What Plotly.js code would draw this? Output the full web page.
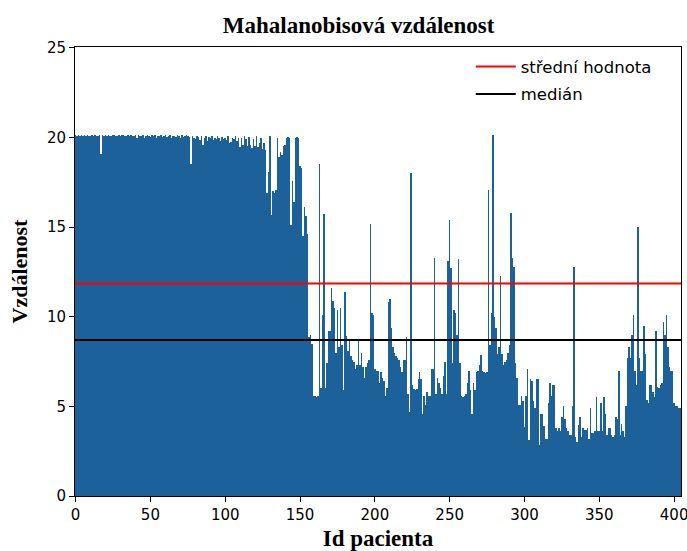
<!DOCTYPE html>
<html>
<head>
<meta charset="utf-8">
<script src="https://cdn.plot.ly/plotly-3.0.1.min.js"></script>
<style>html,body{margin:0;padding:0;background:#fff;}#chart{width:687px;height:551px;}</style>
</head>
<body>
<div id="chart"></div>
<script>
// Mahalanobis distance per patient (index 0..404)
const distances = [
  // 0-9
  20.12, 20.1, 20.13, 20.1, 20.12, 20.11, 20.13, 20.1, 20.12, 20.1,
  // 10-19
  20.11, 20.13, 20.1, 20.12, 20.1, 20.11, 20.13, 19.1, 20.12, 20.1,
  // 20-29
  20.13, 20.1, 20.12, 20.11, 20.1, 20.13, 20.12, 20.1, 20.11, 20.12,
  // 30-39
  20.1, 20.13, 20.12, 20.1, 20.11, 20.13, 20.1, 20.12, 20.11, 20.1,
  // 40-49
  20.12, 20.0, 20.13, 20.1, 20.11, 20.12, 20.0, 20.1, 20.13, 20.11,
  // 50-59
  20.05, 20.12, 20.1, 20.13, 20.0, 20.11, 20.1, 20.12, 20.05, 20.1,
  // 60-69
  20.13, 20.02, 20.1, 20.12, 20.0, 20.11, 20.1, 20.05, 20.12, 20.1,
  // 70-79
  20.0, 20.12, 20.05, 20.1, 20.13, 20.1, 20.05, 18.5, 20.1, 20.0,
  // 80-89
  19.9, 20.1, 20.05, 19.85, 20.1, 19.6, 20.0, 20.1, 19.8, 20.05,
  // 90-99
  19.95, 20.1, 19.85, 20.0, 19.9, 20.1, 19.95, 19.8, 20.05, 19.9,
  // 100-109
  20.0, 19.85, 20.1, 19.7, 19.75, 20.0, 19.9, 20.1, 19.8, 19.95,
  // 110-119
  19.45, 20.0, 19.6, 20.1, 19.9, 19.5, 20.05, 19.6, 19.4, 19.9,
  // 120-129
  19.5, 20.1, 19.45, 19.7, 20.0, 19.35, 19.7, 19.3, 16.9, 18.1,
  // 130-139
  20.1, 15.7, 17.0, 16.9, 17.1, 20.0, 18.9, 19.2, 19.0, 19.5,
  // 140-149
  19.6, 20.0, 20.05, 20.0, 15.1, 17.6, 16.4, 20.0, 20.05, 20.0,
  // 150-159
  18.4, 18.3, 14.5, 16.1, 15.6, 14.6, 8.85, 9.0, 8.5, 5.6,
  // 160-169
  5.6, 5.5, 5.6, 18.5, 6.0, 10.1, 15.75, 6.0, 7.4, 9.2,
  // 170-179
  9.2, 11.6, 10.9, 10.5, 8.0, 10.4, 8.3, 10.5, 8.4, 5.9,
  // 180-189
  11.4, 8.9, 8.1, 8.7, 7.8, 7.6, 7.5, 7.1, 7.3, 8.7,
  // 190-199
  7.3, 8.0, 7.2, 6.6, 7.2, 7.4, 7.6, 15.2, 10.2, 10.1,
  // 200-209
  7.1, 7.0, 7.0, 6.3, 6.9, 6.6, 6.4, 5.6, 6.0, 10.8,
  // 210-219
  11.0, 9.4, 8.3, 8.0, 7.8, 7.7, 7.6, 7.2, 6.9, 7.6,
  // 220-229
  7.6, 8.85, 5.7, 4.7, 18.0, 6.2, 5.95, 5.9, 5.95, 6.5,
  // 230-239
  6.9, 6.5, 4.6, 5.6, 5.1, 5.8, 5.6, 5.6, 7.1, 7.1,
  // 240-249
  13.3, 5.7, 6.6, 6.3, 6.0, 5.7, 6.7, 7.5, 5.7, 13.1,
  // 250-259
  15.4, 12.7, 7.4, 10.4, 10.2, 9.0, 13.2, 7.4, 5.6, 5.5,
  // 260-269
  5.6, 5.7, 6.3, 7.0, 5.9, 4.6, 6.3, 5.9, 6.9, 7.0,
  // 270-279
  7.3, 7.85, 7.0, 6.9, 6.85, 6.9, 17.1, 8.4, 10.2, 20.15,
  // 280-289
  10.0, 9.4, 7.9, 8.3, 12.3, 7.9, 7.3, 7.5, 7.6, 8.0,
  // 290-299
  8.4, 15.8, 13.3, 12.75, 7.4, 6.6, 5.1, 5.1, 5.6, 5.3,
  // 300-309
  3.85, 5.6, 7.1, 3.1, 6.5, 6.4, 5.3, 4.9, 6.5, 6.5,
  // 310-319
  2.85, 4.6, 4.6, 3.9, 3.2, 3.2, 5.2, 6.3, 5.6, 6.2,
  // 320-329
  6.2, 3.8, 3.6, 3.8, 3.6, 4.4, 5.0, 4.3, 3.8, 3.6,
  // 330-339
  3.4, 3.4, 5.0, 12.75, 3.3, 3.0, 3.95, 4.4, 3.3, 3.8,
  // 340-349
  3.7, 3.7, 3.8, 3.2, 4.9, 3.5, 3.5, 3.6, 5.5, 3.6,
  // 350-359
  3.6, 5.2, 3.6, 5.5, 4.6, 3.4, 3.8, 3.8, 3.4, 3.3,
  // 360-369
  3.4, 4.4, 4.3, 7.0, 3.4, 4.0, 3.6, 3.3, 5.0, 7.7,
  // 370-379
  8.3, 7.7, 9.0, 10.1, 7.0, 6.2, 15.0, 7.7, 7.0, 7.0,
  // 380-389
  9.5, 7.9, 5.35, 5.2, 6.2, 6.2, 5.8, 5.5, 9.2, 6.1,
  // 390-399
  6.0, 6.2, 6.3, 9.7, 9.0, 10.1, 8.3, 7.2, 7.0, 7.0,
  // 400-404
  5.2, 5.0, 5.0, 4.9, 4.9
];
const patientIds = distances.map((_, i) => i);
const meanValue = 11.85;    // střední hodnota
const medianValue = 8.7;    // medián
const xTicks = [0, 50, 100, 150, 200, 250, 300, 350, 400];
const yTicks = [0, 5, 10, 15, 20, 25];
const xRange = [-0.4, 404.6];

const serif = "Liberation Serif, Times New Roman, serif";
const sans = "DejaVu Sans, sans-serif";

const traces = [
  {
    type: 'bar', x: patientIds, y: distances,
    marker: {color: '#1c6199', line: {width: 0}},
    showlegend: false, hoverinfo: 'x+y'
  },
  {
    type: 'scatter', mode: 'lines', name: 'střední hodnota', legendgroup: 'mean',
    x: xRange, y: [meanValue, meanValue],
    line: {color: '#ff0000', width: 2}
  },
  {
    type: 'scatter', mode: 'lines', name: 'medián', legendgroup: 'median',
    x: xRange, y: [medianValue, medianValue],
    line: {color: '#000000', width: 2}
  }
];

const layout = {
  width: 687, height: 551,
  margin: {l: 75, r: 6, t: 47, b: 55},
  paper_bgcolor: '#ffffff', plot_bgcolor: '#ffffff',
  bargap: 0,
  title: {
    text: '<b>Mahalanobisová vzdálenost</b>',
    font: {family: serif, size: 23, color: '#000'},
    x: 0.522, xanchor: 'center', y: 0.955, yanchor: 'middle'
  },
  xaxis: {
    range: xRange, tickmode: 'array', tickvals: xTicks,
    ticks: 'outside', ticklen: 5, tickwidth: 1, tickcolor: '#000',
    showline: true, linecolor: '#000', linewidth: 1, mirror: true,
    showgrid: false, zeroline: false, ticklabeloverflow: 'allow',
    tickfont: {family: sans, size: 15, color: '#000'},
    title: {text: '<b>Id pacienta</b>', font: {family: serif, size: 23, color: '#000'}, standoff: 8}
  },
  yaxis: {
    range: [0, 25.05], tickmode: 'array', tickvals: yTicks,
    ticks: 'outside', ticklen: 5, tickwidth: 1, tickcolor: '#000',
    showline: true, linecolor: '#000', linewidth: 1, mirror: true,
    showgrid: false, zeroline: false, ticklabeloverflow: 'allow',
    tickfont: {family: sans, size: 15, color: '#000'},
    title: {text: '<b>Vzdálenost</b>', font: {family: serif, size: 22, color: '#000'}, standoff: 13}
  },
  legend: {
    x: 0.96, xanchor: 'right', y: 0.995, yanchor: 'top',
    bgcolor: 'rgba(255,255,255,0.8)', borderwidth: 0,
    font: {family: sans, size: 16.5, color: '#000'},
    itemwidth: 40, tracegroupgap: 3
  },
  showlegend: true
};

Plotly.newPlot('chart', traces, layout, {staticPlot: true, displayModeBar: false});
</script>
</body>
</html>
